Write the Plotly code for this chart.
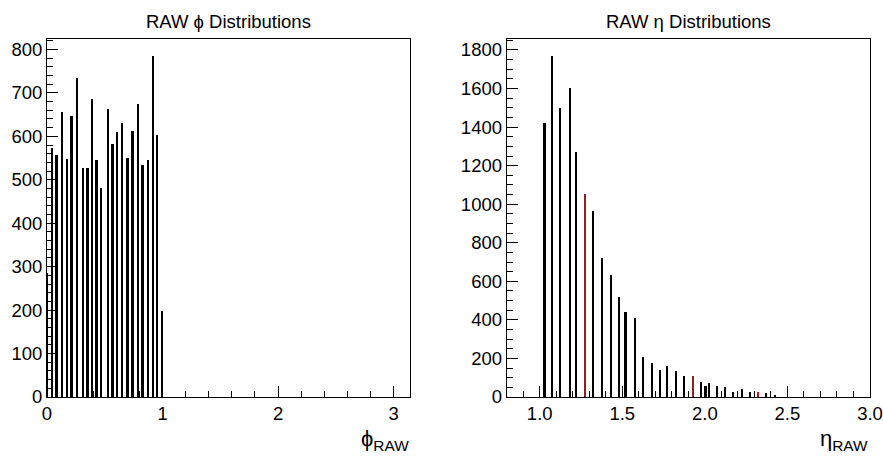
import plotly.graph_objects as go

# ---- data ----
phi_centers = [0.0, 0.046, 0.084, 0.133, 0.173, 0.214, 0.260, 0.312, 0.352, 0.392, 0.430, 0.470,
               0.531, 0.569, 0.606, 0.649, 0.699, 0.742, 0.788, 0.829, 0.877, 0.918, 0.955, 1.0]
phi_counts = [285, 573, 557, 656, 548, 647, 734, 527, 527, 686, 545, 481,
              664, 583, 610, 630, 551, 613, 675, 534, 545, 784, 603, 199]

eta_centers = [1.028, 1.076, 1.124, 1.181, 1.221, 1.274, 1.324, 1.375, 1.430, 1.478, 1.520, 1.575,
               1.623, 1.680, 1.730, 1.772, 1.826, 1.874, 1.926, 1.978, 2.005, 2.026, 2.075, 2.123,
               2.172, 2.226, 2.273, 2.321, 2.371, 2.424]
eta_counts = [1423, 1769, 1497, 1604, 1269, 1053, 967, 719, 631, 517, 443, 412,
              208, 177, 141, 159, 134, 108, 108, 77, 58, 72, 58, 52,
              26, 39, 26, 28, 21, 8]
# bins drawn in red in the reference (overlaid second histogram)
eta_red_bins = {1.274: "#8b2222", 1.926: "#8b2222", 2.321: "#cc1111"}

phi_ticks = [0, 1, 2, 3]
eta_ticks = [1.0, 1.5, 2.0, 2.5, 3.0]
eta_tick_text = ["1.0", "1.5", "2.0", "2.5", "3.0"]

FONT = "Liberation Sans, Arial, Helvetica, sans-serif"
W, H = 883, 460

eta_colors = [eta_red_bins.get(c, "black") for c in eta_centers]

fig = go.Figure()
fig.add_trace(go.Bar(x=phi_centers, y=phi_counts, width=0.016, marker=dict(color="black", line=dict(width=0)),
                     xaxis="x", yaxis="y", showlegend=False))
fig.add_trace(go.Bar(x=eta_centers, y=eta_counts, width=0.011, marker=dict(color=eta_colors, line=dict(width=0)),
                     xaxis="x2", yaxis="y2", showlegend=False))

ydom = [(H - 397) / H, (H - 39) / H]
axis_common = dict(showgrid=False, zeroline=False, showline=True, linecolor="black", linewidth=1,
                   mirror=True, ticks="inside", tickcolor="black", tickwidth=1, automargin=False,
                   tickfont=dict(family=FONT, size=18.5, color="black"))

fig.update_layout(
    width=W, height=H, autosize=False, margin=dict(l=0, r=0, t=0, b=0, pad=0),
    paper_bgcolor="white", plot_bgcolor="white", bargap=0,
    xaxis=dict(domain=[47 / W, 410 / W], range=[0, 3.1416], tickvals=phi_ticks, ticklen=11,
               minor=dict(ticks="inside", ticklen=6, dtick=0.2, tickcolor="black"),
               anchor="y", **axis_common),
    yaxis=dict(domain=ydom, range=[0, 824], dtick=100, ticklen=11,
               minor=dict(ticks="inside", ticklen=6, dtick=20, tickcolor="black"),
               anchor="x", **axis_common),
    xaxis2=dict(domain=[506.7 / W, 870 / W], range=[0.8, 3.0], tickvals=eta_ticks, ticktext=eta_tick_text,
                ticklen=11, minor=dict(ticks="inside", ticklen=6, dtick=0.1, tickcolor="black"),
                anchor="y2", **axis_common),
    yaxis2=dict(domain=ydom, range=[0, 1857], dtick=200, ticklen=11,
                minor=dict(ticks="inside", ticklen=6, dtick=50, tickcolor="black"),
                anchor="x2", **axis_common),
    annotations=[
        dict(text="RAW ϕ Distributions", x=228.5 / W, y=1 - 22 / H, xref="paper", yref="paper",
             xanchor="center", yanchor="middle", showarrow=False,
             font=dict(family=FONT, size=18.5, color="black")),
        dict(text="RAW η Distributions", x=688 / W, y=1 - 22 / H, xref="paper", yref="paper",
             xanchor="center", yanchor="middle", showarrow=False,
             font=dict(family=FONT, size=18.5, color="black")),
        dict(text="ϕ<sub>RAW</sub>", x=411 / W, y=1 - 440 / H, xref="paper", yref="paper",
             xanchor="right", yanchor="middle", showarrow=False,
             font=dict(family=FONT, size=22, color="black")),
        dict(text="η<sub>RAW</sub>", x=870 / W, y=1 - 440 / H, xref="paper", yref="paper",
             xanchor="right", yanchor="middle", showarrow=False,
             font=dict(family=FONT, size=22, color="black")),
    ],
)

fig.write_html("out.html", default_width="883px", default_height="460px",
               post_script="document.body.style.margin='0';document.body.style.overflow='hidden';")
